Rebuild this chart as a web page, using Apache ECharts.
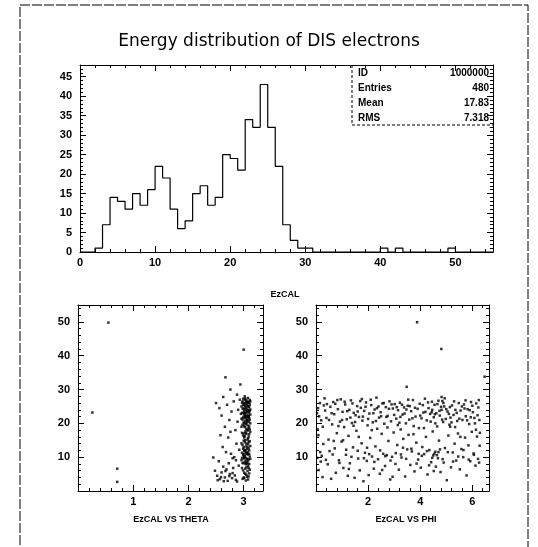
<!DOCTYPE html>
<html>
<head>
<meta charset="utf-8">
<script src="https://cdn.jsdelivr.net/npm/echarts@6/dist/echarts.min.js"></script>
<style>
html,body{margin:0;padding:0;background:#fff;}
#chart{width:538px;height:547px;}
</style>
</head>
<body>
<div id="chart"></div>
<script>
// ---- Data ----
const titleText = 'Energy distribution of DIS electrons';
const histXLabel = 'EzCAL';
const thetaLabel = 'EzCAL VS THETA';
const phiLabel = 'EzCAL VS PHI';
const statNames = ['ID', 'Entries', 'Mean', 'RMS'];
const statValues = ['1000000', '480', '17.83', '7.318'];

// histogram: 55 bins of width 1 from 0 to 55
const binWidth = 1;
const counts = [0,0,1,7,14,13,11,15,12,16,22,19,11,6,8,15,17,12,14,25,24,21,34,32,43,32,22,7,3,1,
  1,0,0,0,0,0,0,0,0,0,1,0,1,0,0,0,0,0,0,1,0,0,0,0,0];

// EzCAL vs THETA
const thetaPts = [
 [0.55,49.8],[0.26,23.2],[0.71,6.6],[0.71,2.7],[3.00,41.8],[2.67,33.6],
 [2.50,26.0],[2.56,24.5],[2.60,22.3],[2.63,27.8],[2.66,19.0],[2.58,16.5],[2.62,13.0],[2.55,8.8],[2.48,6.0],[2.52,4.5],
 [2.57,3.5],[2.60,5.5],[2.63,7.2],[2.66,4.0],[2.69,6.4],[2.71,3.0],[2.73,8.2],[2.75,5.0],[2.77,11.0],[2.79,3.8],
 [2.81,6.8],[2.83,10.0],[2.84,4.6],[2.86,9.1],[2.87,14.0],[2.88,2.8],[2.89,20.5],[2.90,24.0],[2.91,7.5],[2.92,12.2],
 [2.93,27.0],[2.70,25.5],[2.74,21.0],[2.78,23.5],[2.82,26.5],[2.85,18.0],[2.68,11.5],[2.72,15.8],[2.76,17.5],[2.80,9.7],
 [2.45,9.9],[2.53,3.2],[2.59,4.1],[2.64,2.9],[2.67,5.9],[2.74,4.4],[2.80,5.3],[2.86,3.3],[2.76,30.0],[2.88,28.5],[2.94,31.5],
 [2.96,25.0],[2.98,26.5],[3.00,24.2],[3.02,27.0],[3.04,25.8],[3.06,23.5],[3.08,26.2],[3.10,24.8],[3.12,22.6],[2.97,23.1],
 [2.99,21.7],[3.01,22.9],[3.03,20.8],[3.05,21.9],[3.07,24.0],[3.09,22.2],[3.11,25.5],[2.98,19.6],[3.00,20.3],[3.02,18.9],
 [3.04,19.8],[3.06,20.6],[3.08,17.9],[3.10,19.1],[2.97,17.2],[2.99,16.4],[3.01,15.8],[3.03,17.6],[3.05,16.9],[3.07,15.2],
 [3.09,16.1],[3.11,14.7],[2.96,14.1],[2.98,13.6],[3.00,12.9],[3.02,14.4],[3.04,13.2],[3.06,12.4],[3.08,13.9],[3.10,12.0],
 [2.97,11.3],[2.99,10.6],[3.01,11.8],[3.03,9.9],[3.05,10.9],[3.07,11.5],[3.09,9.4],[3.11,10.2],[2.96,9.1],[2.98,8.3],
 [3.00,9.6],[3.02,8.7],[3.04,7.9],[3.06,8.5],[3.08,7.3],[3.10,8.0],[2.97,6.8],[2.99,6.1],[3.01,5.4],[3.03,6.6],
 [3.05,4.8],[3.07,5.9],[3.09,4.3],[3.11,6.3],[2.98,3.6],[3.00,4.0],[3.04,3.1],[3.08,3.4],
 [2.96,21.4],[2.98,24.4],[3.00,26.0],[3.01,23.6],[3.03,25.2],[3.05,26.8],[3.07,22.5],[3.09,25.0],[3.10,21.5],[2.99,27.3],
 [3.02,24.6],[3.04,22.1],[3.06,25.4],[3.08,23.8],[3.11,26.9],[2.97,26.1],[3.00,22.0],[3.03,23.0],[3.05,24.5],[3.07,26.4],
 [3.09,20.4],[3.12,24.1],[2.98,21.1],[3.01,20.0],[3.06,21.2],[3.08,27.5],[3.10,23.2],[3.02,28.0],[3.04,26.3],[2.96,19.0],
 [3.05,18.4],[3.09,18.6],[3.00,17.0],[3.07,19.4],
 [2.99,12.5],[3.02,10.3],[3.05,9.2],[3.08,10.8],[3.03,12.1],[3.06,11.1],[3.00,10.9],[3.09,12.6],[2.97,9.8],[3.04,8.2],
 [3.01,25.6],[3.03,27.4],[3.05,23.2],[3.07,25.1],[3.09,23.6],[3.11,21.0],[3.02,22.4],[3.04,24.0],[3.06,26.0],[3.08,22.0],
 [3.10,26.1],[3.00,23.1],[2.99,25.4],[3.03,21.6],[3.05,20.1],[3.07,20.9],[3.09,21.9],[3.11,23.8],[3.01,19.2],[3.04,17.1],
 [3.06,18.0],[3.08,15.6],[3.10,16.8],[3.02,16.2],[3.00,14.9],[3.05,14.0],[3.07,13.1],[3.09,14.5],[3.03,15.0],[3.11,18.2],
 [3.01,10.0],[3.04,11.4],[3.06,9.6],[3.08,9.0],[3.10,11.0],[3.02,12.0],[3.00,8.2],[3.05,7.0],[3.07,8.1],[3.09,6.8],
 [3.03,5.1],[3.06,4.2],[3.01,3.8],[3.10,5.2],[3.12,9.5],[3.12,13.3],[3.12,17.5],[3.12,20.0],[3.12,26.5],[2.95,22.8]
];

// EzCAL vs PHI
const phiPts = [
 [0.08,24.5],[0.12,22.1],[0.15,26.0],[0.05,9.8],[0.10,6.2],[0.18,8.7],[0.22,10.4],[0.25,4.1],[0.30,25.3],[0.35,23.8],
 [0.28,13.9],[0.40,21.6],[0.45,7.9],[0.48,15.2],[0.52,11.8],[0.55,24.9],[0.58,3.6],[0.62,19.7],[0.66,26.3],[0.70,22.7],
 [0.72,12.6],[0.76,5.4],[0.80,17.1],[0.84,24.2],[0.88,9.1],[0.92,20.5],[0.95,27.1],[0.98,14.6],[1.02,23.4],[1.05,6.8],
 [1.08,18.9],[1.12,25.6],[1.15,10.7],[1.18,21.2],[1.22,4.5],[1.25,16.3],[1.28,24.0],[1.30,8.2],[1.34,26.8],[1.38,20.1],
 [1.42,12.9],[1.45,23.1],[1.48,3.9],[1.52,22.4],[1.55,17.8],[1.58,25.1],[1.62,9.6],[1.65,21.9],[1.68,6.1],[1.72,24.6],
 [1.75,14.1],[1.78,20.8],[1.82,2.9],[1.85,23.7],[1.88,11.3],[1.92,26.2],[1.95,8.9],[1.98,19.4],[2.02,4.7],[2.05,22.9],
 [2.08,15.7],[2.12,25.4],[2.15,10.2],[2.18,20.3],[2.22,6.6],[2.25,24.1],[2.28,13.2],[2.32,27.6],[2.35,18.4],[2.38,9.4],
 [2.42,21.7],[2.45,5.1],[2.48,23.3],[2.52,16.9],[2.55,25.9],[2.58,11.0],[2.62,19.9],[2.65,7.4],[2.68,24.8],[2.72,10.6],
 [2.75,22.2],[2.78,14.8],[2.82,26.5],[2.85,3.4],[2.88,20.6],[2.92,10.1],[2.95,24.4],[2.98,17.3],[3.02,25.7],[3.05,8.0],
 [3.08,21.4],[3.12,13.6],[3.15,23.9],[3.18,6.3],[3.22,26.1],[3.25,18.2],[3.28,9.9],[3.32,22.6],[3.35,15.4],[3.38,24.7],
 [3.42,4.3],[3.45,20.0],[3.48,30.8],[3.50,12.3],[3.52,25.2],[3.55,16.6],[3.58,21.1],[3.62,7.7],[3.65,23.6],[3.68,11.7],
 [3.72,26.9],[3.75,19.2],[3.78,5.8],[3.82,22.0],[3.85,14.3],[3.88,49.9],[3.90,24.3],[3.92,9.3],[3.95,18.6],[3.98,25.8],
 [4.02,6.9],[4.05,21.5],[4.08,13.0],[4.12,23.2],[4.15,10.9],[4.18,27.3],[4.22,16.0],[4.25,20.9],[4.28,4.9],[4.32,24.5],
 [4.35,12.1],[4.38,22.8],[4.42,8.5],[4.45,26.4],[4.48,17.6],[4.50,10.5],[4.52,21.8],[4.55,25.5],[4.58,11.6],[4.60,7.2],
 [4.62,23.0],[4.65,19.1],[4.68,9.7],[4.70,26.7],[4.72,14.9],[4.75,22.3],[4.78,5.6],[4.80,24.9],[4.81,42.0],[4.82,27.8],
 [4.85,26.6],[4.88,20.4],[4.90,8.4],[4.92,25.0],[4.95,12.7],[4.98,21.3],[5.02,3.2],[5.05,23.5],[5.08,16.4],[5.12,19.6],
 [5.15,19.0],[5.18,7.0],[5.22,25.3],[5.25,11.4],[5.28,22.5],[5.32,14.0],[5.35,24.0],[5.38,9.0],[5.42,20.7],[5.45,17.0],
 [5.48,26.0],[5.52,6.4],[5.55,23.8],[5.58,12.4],[5.62,21.0],[5.65,10.0],[5.68,25.6],[5.72,15.8],[5.75,22.1],[5.78,4.6],
 [5.82,24.2],[5.85,13.5],[5.88,19.8],[5.92,8.8],[5.95,26.3],[5.98,17.5],[6.02,23.3],[6.05,11.1],[6.08,21.6],[6.12,7.5],
 [6.15,25.9],[6.18,16.1],[6.20,22.4],[6.22,9.5],[6.25,26.9],[6.28,13.4],[6.47,33.8],
 [0.06,18.3],[0.20,20.9],[0.33,27.4],[0.42,25.7],[0.60,23.0],[0.74,25.8],[0.86,19.2],[1.00,21.0],[1.10,26.4],[1.20,23.6],
 [1.32,21.7],[1.40,25.9],[1.50,20.4],[1.60,23.5],[1.70,26.6],[1.80,22.0],[1.90,24.9],[2.00,21.3],[2.10,27.0],[2.20,23.0],
 [2.30,20.7],[2.40,25.0],[2.50,22.1],[2.60,26.0],[2.70,21.9],[2.80,24.3],[2.90,25.6],[3.00,22.5],[3.10,24.8],[3.20,20.2],
 [3.30,25.5],[3.40,22.9],[3.47,24.1],[3.60,25.1],[3.70,21.5],[3.80,24.6],[4.00,22.3],[4.10,25.4],[4.20,23.4],[4.30,26.2],
 [4.40,20.5],[4.46,24.0],[4.56,22.7],[4.66,25.7],[4.74,23.7],[4.84,21.1],[4.94,27.4],[5.00,24.2],[5.10,22.8],[5.20,20.3],
 [5.30,26.5],[5.40,23.1],[5.50,21.4],[5.60,25.0],[5.70,24.4],[5.80,20.9],[5.90,23.9],[6.00,25.2],[6.10,20.0],[6.23,24.7],
 [0.16,11.5],[0.38,9.2],[0.64,10.8],[0.90,8.3],[1.16,12.2],[1.36,10.1],[1.60,11.9],[1.84,9.7],[2.04,10.9],[2.24,8.6],
 [2.46,12.0],[2.66,10.3],[2.86,9.0],[3.06,11.2],[3.26,10.8],[3.46,9.5],[3.66,12.5],[3.86,8.1],[4.06,10.4],[4.26,11.8],
 [4.46,9.8],[4.54,11.0],[4.64,10.6],[4.76,12.3],[4.86,9.4],[5.06,11.5],[5.26,8.7],[5.46,10.2],[5.66,12.1],[5.86,9.3],
 [6.06,10.7],[6.26,8.4],
 [0.04,23.0],[0.09,16.5],[0.26,19.0],[0.50,21.0],[0.68,14.8],[0.82,26.9],[1.04,15.0],[1.26,6.5],[1.44,19.3],[1.64,16.0],
 [1.76,27.2],[1.96,12.8],[2.14,18.0],[2.34,24.5],[2.54,6.2],[2.74,18.8],[2.94,4.2],[3.14,19.5],[3.34,12.8],[3.54,27.0],
 [3.74,16.8],[3.94,11.0],[4.14,18.6],[4.34,7.6],[4.44,23.3],[4.58,20.0],[4.70,11.5],[4.82,24.0],[4.89,26.0],[5.14,24.8],
 [5.34,18.9],[5.54,16.0],[5.74,26.8],[5.94,21.8],[6.14,18.1],[6.27,21.0],[6.29,17.2],[5.16,21.7],[4.52,5.9],[3.24,21.9]
];

// ---- Build ----
const histData = counts.map((c, i) => [i * binWidth, c]);
histData.push([counts.length * binWidth, counts[counts.length - 1]]);

const FONT = 'Liberation Sans, Arial, sans-serif';
const lineStyle = { color: '#000', width: 1 };

function axisPair(gridIndex, min, max, interval, minorSplit, hideMin, isX) {
  const base = {
    gridIndex, type: 'value', min, max, interval,
    axisLine: { show: true, onZero: false, lineStyle },
    splitLine: { show: false },
  };
  const main = Object.assign({}, base, {
    position: isX ? 'bottom' : 'left',
    axisTick: { show: true, inside: true, length: 6, lineStyle },
    minorTick: { show: true, splitNumber: minorSplit, length: 3, lineStyle },
    axisLabel: { show: true, color: '#000', fontFamily: FONT, fontWeight: 'bold', fontSize: 11,
      margin: isX ? 5 : 8, showMaxLabel: false, showMinLabel: !hideMin }
  });
  const opp = Object.assign({}, base, {
    position: isX ? 'top' : 'right',
    axisTick: { show: true, inside: true, length: 6, lineStyle },
    minorTick: { show: true, splitNumber: minorSplit, length: 3, lineStyle },
    axisLabel: { show: false }
  });
  return [main, opp];
}

const xAxes = [].concat(
  axisPair(0, 0, 55, 10, 5, false, true),
  axisPair(1, 0, 3.35, 1, 5, true, true),
  axisPair(2, 0, 6.64, 2, 5, true, true)
);
const yAxes = [].concat(
  axisPair(0, 0, 48, 5, 5, false, false),
  axisPair(1, 0, 55, 10, 5, true, false),
  axisPair(2, 0, 55, 10, 5, true, false)
);

const chart = echarts.init(document.getElementById('chart'), null, { renderer: 'canvas' });
chart.setOption({
  animation: false,
  backgroundColor: '#fff',
  grid: [
    { left: 80, top: 65, width: 413, height: 187 },
    { left: 78, top: 305, width: 185, height: 186 },
    { left: 316, top: 305, width: 173, height: 186 }
  ],
  xAxis: xAxes,
  yAxis: yAxes,
  series: [
    { type: 'line', xAxisIndex: 0, yAxisIndex: 0, data: histData, step: 'end',
      showSymbol: false, lineStyle: { color: '#000', width: 1.2 }, silent: true },
    { type: 'scatter', xAxisIndex: 2, yAxisIndex: 2, data: thetaPts, symbol: 'rect', symbolSize: 2.5,
      itemStyle: { color: '#000' }, silent: true },
    { type: 'scatter', xAxisIndex: 4, yAxisIndex: 4, data: phiPts, symbol: 'rect', symbolSize: 2.5,
      itemStyle: { color: '#000' }, silent: true }
  ],
  graphic: [
    { type: 'rect', shape: { x: 20, y: 5, width: 508, height: 560 }, silent: true,
      style: { fill: 'none', stroke: '#000', lineWidth: 1, lineDash: [10, 2] } },
    { type: 'text', left: 'center', top: 33, silent: true,
      style: { text: titleText, fontFamily: 'DejaVu Sans, sans-serif', fontSize: 17, fill: '#000' } },
    { type: 'text', x: 285, y: 290, silent: true,
      style: { text: histXLabel, fontFamily: FONT, fontSize: 9, fontWeight: 'bold', fill: '#000', align: 'center' } },
    { type: 'text', x: 171, y: 515, silent: true,
      style: { text: thetaLabel, fontFamily: FONT, fontSize: 9, fontWeight: 'bold', fill: '#000', align: 'center' } },
    { type: 'text', x: 406, y: 515, silent: true,
      style: { text: phiLabel, fontFamily: FONT, fontSize: 9, fontWeight: 'bold', fill: '#000', align: 'center' } },
    { type: 'line', shape: { x1: 352, y1: 65, x2: 352, y2: 125 }, silent: true,
      style: { stroke: '#000', lineWidth: 1, lineDash: [3, 2] } },
    { type: 'line', shape: { x1: 352, y1: 125, x2: 493, y2: 125 }, silent: true,
      style: { stroke: '#000', lineWidth: 1, lineDash: [3, 2] } }
  ].concat(
    statNames.map((t, i) => ({ type: 'text', x: 358, y: 68 + i * 15, silent: true,
      style: { text: t, fontFamily: FONT, fontSize: 10, fontWeight: 'bold', fill: '#000' } })),
    statValues.map((t, i) => ({ type: 'text', x: 489, y: 68 + i * 15, silent: true,
      style: { text: t, fontFamily: FONT, fontSize: 10, fontWeight: 'bold', fill: '#000', align: 'right' } }))
  )
});
</script>
</body>
</html>
